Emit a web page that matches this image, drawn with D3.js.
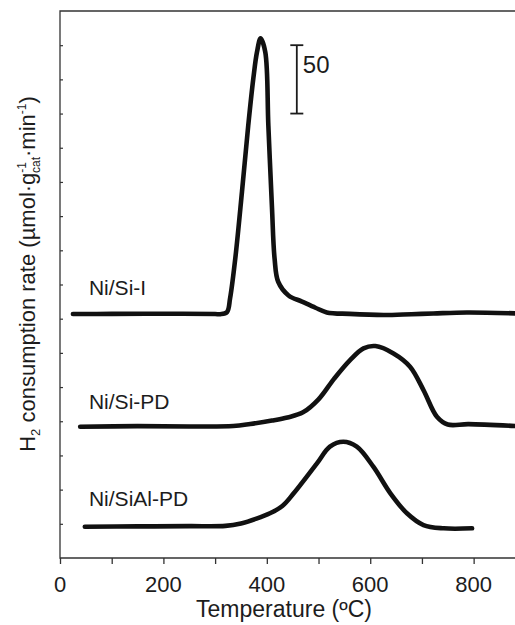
<!DOCTYPE html>
<html>
<head>
<meta charset="utf-8">
<script src="https://cdn.jsdelivr.net/npm/d3@7"></script>
<style>
  body { margin: 0; background: #fff; }
  svg { display: block; font-family: "Liberation Sans", Arial, sans-serif; }
</style>
</head>
<body>
<svg id="chart" width="515" height="625"></svg>
<script>
// TPR profiles (value includes vertical offset of each trace)
const siI_T = [25, 100, 200, 300, 310, 323, 329, 339, 352, 364, 374, 381, 388, 397, 403, 410, 415, 422, 442, 468, 494, 516, 560, 626, 680, 722, 787, 880];
const siI_V = [178.4, 178.5, 178.6, 178.4, 178.3, 179.8, 190, 219, 268, 316, 351, 370, 380, 370, 316, 256, 219, 202, 192, 187.5, 183, 179.6, 178.5, 177.7, 178.3, 178.8, 179.5, 178.9];

const siPD_T = [39, 150, 250, 335, 368, 410, 440, 470, 500, 530, 561, 587, 610, 645, 677, 703, 729, 750, 790, 880];
const siPD_V = [96, 96.4, 96.2, 96.5, 98, 100.5, 102.8, 106.5, 116, 131, 144.7, 153.3, 155, 149.6, 139.9, 122.8, 103.3, 97.6, 97.9, 96.5];

const siAlPD_T = [48, 150, 250, 320, 350, 380, 406, 430, 452, 497, 522, 548, 574, 606, 639, 671, 703, 742, 797];
const siAlPD_V = [22.9, 23.1, 23.3, 23.5, 25.3, 28.8, 32.7, 38, 47.3, 69.2, 81.4, 85, 81.4, 66.8, 47.3, 32.7, 24.1, 21.7, 21.7];

const seriesNames = ["Ni/Si-I", "Ni/Si-PD", "Ni/SiAl-PD"];
const labelT = [56, 56, 56];
const labelV = [192, 109, 38];

const xTicks = [0, 100, 200, 300, 400, 500, 600, 700, 800];
const xLabels = [0, 200, 400, 600, 800];
const yTicks = d3.range(25, 400, 25);

const scaleBarT = 458, scaleBarLo = 325, scaleBarHi = 375;

const svg = d3.select("#chart");
const x = d3.scaleLinear().domain([0, 880]).range([60, 515]);
const y = d3.scaleLinear().domain([0, 400]).range([558, 11]);
const ink = "#1c1c1c";

// frame: left, top, bottom
svg.append("path")
  .attr("d", `M${x(880)},${y(400)}H${x(0)}V${y(0)}H${x(880)}`)
  .attr("fill", "none").attr("stroke", "#333").attr("stroke-width", 1.3);

// x axis ticks (outward) and labels
svg.append("g")
  .attr("transform", `translate(0,${y(0)})`)
  .call(d3.axisBottom(x).tickValues(xTicks).tickSize(6).tickFormat(""))
  .call(g => g.select(".domain").remove())
  .call(g => g.selectAll("line").attr("stroke", "#333").attr("stroke-width", 1.3));

svg.append("g").selectAll("text")
  .data(xLabels).join("text")
  .attr("x", d => x(d)).attr("y", 592)
  .attr("text-anchor", "middle")
  .attr("font-size", 22).attr("fill", ink)
  .text(d => d);

// y axis minor ticks (inward)
svg.append("g")
  .attr("transform", `translate(${x(0)},0)`)
  .call(d3.axisRight(y).tickValues(yTicks).tickSize(3).tickFormat(""))
  .call(g => g.select(".domain").remove())
  .call(g => g.selectAll("line").attr("stroke", "#333").attr("stroke-width", 1.2));

// axis titles
svg.append("text")
  .attr("x", 284).attr("y", 617)
  .attr("text-anchor", "middle")
  .attr("font-size", 23).attr("fill", ink)
  .text("Temperature (ºC)");

const yt = svg.append("text")
  .attr("transform", "translate(35,274) rotate(-90)")
  .attr("text-anchor", "middle")
  .attr("font-size", 22).attr("fill", ink);
yt.append("tspan").text("H");
yt.append("tspan").attr("font-size", 13).attr("dy", 5).text("2");
yt.append("tspan").attr("dy", -5).text(" consumption rate (µmol·g");
yt.append("tspan").attr("font-size", 12).attr("dy", -9).text("-1");
yt.append("tspan").attr("font-size", 12).attr("dx", -11).attr("dy", 14).text("cat");
yt.append("tspan").attr("dy", -5).text("·min");
yt.append("tspan").attr("font-size", 12).attr("dy", -9).text("-1");
yt.append("tspan").attr("dy", 9).text(")");

// curves
const line = d3.line()
  .x(d => x(d[0])).y(d => y(d[1]))
  .curve(d3.curveCatmullRom.alpha(0.5));

const curves = [
  d3.zip(siI_T, siI_V),
  d3.zip(siPD_T, siPD_V),
  d3.zip(siAlPD_T, siAlPD_V)
];

svg.append("g").selectAll("path")
  .data(curves).join("path")
  .attr("d", line)
  .attr("fill", "none").attr("stroke", "#111")
  .attr("stroke-width", 4.6)
  .attr("stroke-linecap", "round").attr("stroke-linejoin", "round");

// series labels
svg.append("g").selectAll("text")
  .data(seriesNames).join("text")
  .attr("x", (d, i) => x(labelT[i])).attr("y", (d, i) => y(labelV[i]))
  .attr("font-size", 21).attr("fill", ink)
  .text(d => d);

// scale bar
const sb = svg.append("g").attr("stroke", ink).attr("stroke-width", 1.8);
sb.append("line").attr("x1", x(scaleBarT)).attr("x2", x(scaleBarT))
  .attr("y1", y(scaleBarLo)).attr("y2", y(scaleBarHi));
[scaleBarLo, scaleBarHi].forEach(v => {
  sb.append("line").attr("x1", x(scaleBarT) - 6.5).attr("x2", x(scaleBarT) + 6.5)
    .attr("y1", y(v)).attr("y2", y(v));
});
svg.append("text")
  .attr("x", x(scaleBarT) + 6).attr("y", 73)
  .attr("font-size", 24).attr("fill", ink)
  .text("50");
</script>
</body>
</html>
